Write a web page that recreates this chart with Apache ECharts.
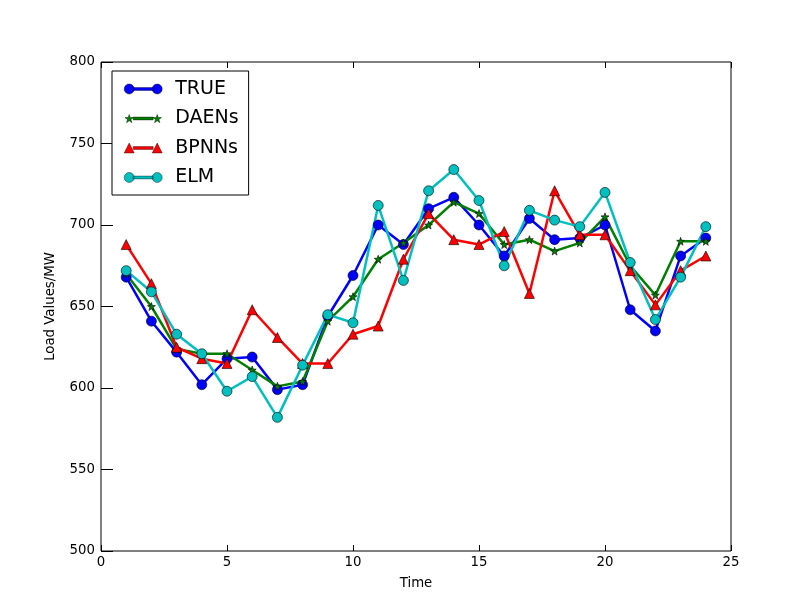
<!DOCTYPE html>
<html>
<head>
<meta charset="utf-8">
<script src="https://cdn.jsdelivr.net/npm/echarts@6/dist/echarts.min.js"></script>
<style>
  html, body { margin: 0; padding: 0; background: #fff; }
  #chart { width: 812px; height: 612px; }
</style>
</head>
<body>
<div id="chart"></div>
<script>
const hours = [1, 2, 3, 4, 5, 6, 7, 8, 9, 10, 11, 12, 13, 14, 15, 16, 17, 18, 19, 20, 21, 22, 23, 24];
const trueLoad = [668, 641, 622, 602, 618, 619, 599, 602, 644, 669, 700, 688, 710, 717, 700, 681, 704, 691, 692, 700, 648, 635, 681, 692];
const daens = [670, 650, 624, 621, 621, 611, 601, 604, 641, 656, 679, 689, 700, 714, 707, 688, 691, 684, 689, 705, 675, 657, 690, 690];
const bpnns = [688, 664, 625, 618, 615, 648, 631, 615, 615, 633, 638, 679, 707, 691, 688, 696, 658, 721, 694, 694, 672, 651, 672, 681];
const elm = [672, 659, 633, 621, 598, 607, 582, 614, 645, 640, 712, 666, 721, 734, 715, 675, 709, 703, 699, 720, 677, 642, 668, 699];

const font = 'DejaVu Sans';
const chart = echarts.init(document.getElementById('chart'), null, { renderer: 'canvas' });

const STAR = 'path://M0,-10 L2.35,-3.24 L9.51,-3.09 L3.8,1.24 L5.88,8.09 L0,4 L-5.88,8.09 L-3.8,1.24 L-9.51,-3.09 L-2.35,-3.24 Z';

// legend keys in the matplotlib way: a short line with a marker at each end (38 x 10 box)
const barPart = 'M9,3.6 L29,3.6 L29,6.4 L9,6.4 Z';
const iconCircle = 'path://M0,5 A5,5 0 1,1 10,5 A5,5 0 1,1 0,5 Z ' + barPart + ' M28,5 A5,5 0 1,1 38,5 A5,5 0 1,1 28,5 Z';
const iconTriangle = 'path://M0,10 L5,0 L10,10 Z ' + barPart + ' M28,10 L33,0 L38,10 Z';
const iconStar = 'path://M5,1 L6.1,4 L9.3,4 L6.7,6 L7.7,9.2 L5,7.3 L2.3,9.2 L3.3,6 L0.7,4 L3.9,4 Z ' + barPart +
  ' M33,1 L34.1,4 L37.3,4 L34.7,6 L35.7,9.2 L33,7.3 L30.3,9.2 L31.3,6 L28.7,4 L31.9,4 Z M0,0 L0.01,0 Z M38,10 L37.99,10 Z';

function pairs(vals) {
  return hours.map((h, i) => [h, vals[i]]);
}

function lineSeries(name, vals, color, symbol, size) {
  return {
    name: name,
    type: 'line',
    data: pairs(vals),
    symbol: symbol,
    symbolSize: size,
    showAllSymbol: true,
    lineStyle: { color: color, width: 2.5 },
    itemStyle: { color: color, borderColor: '#000', borderWidth: 0.6 },
    emphasis: { disabled: true },
    animation: false,
  };
}

// ticks: axes pulled 6px inside the frame, so outward ticks end on the frame
const tick = { show: true, length: 6, lineStyle: { color: '#000', width: 1 } };
const noLine = { show: false };

chart.setOption({
  backgroundColor: '#fff',
  grid: {
    left: 101, right: 81, top: 62, bottom: 61,
    show: true, borderColor: '#000', borderWidth: 1, backgroundColor: 'transparent',
  },
  legend: {
    data: [
      { name: 'TRUE', icon: iconCircle },
      { name: 'DAENs', icon: iconStar },
      { name: 'BPNNs', icon: iconTriangle },
      { name: 'ELM', icon: iconCircle },
    ],
    orient: 'vertical',
    left: 112, top: 71,
    padding: [8.5, 10, 8, 12],
    itemGap: 10.5,
    itemWidth: 38,
    itemHeight: 10,
    itemStyle: { borderWidth: 0.4, borderColor: '#000' },
    borderColor: '#000',
    borderWidth: 1,
    backgroundColor: '#fff',
    textStyle: { fontFamily: font, fontSize: 19, color: '#000', padding: [0, 0, 0, 8] },
  },
  xAxis: [{
    type: 'value',
    min: 0, max: 25, interval: 5,
    offset: -6,
    name: 'Time',
    nameLocation: 'middle',
    nameGap: 32,
    nameTextStyle: { fontFamily: font, fontSize: 13.3, color: '#000' },
    axisLine: noLine,
    axisTick: tick,
    axisLabel: { fontFamily: font, fontSize: 13.3, color: '#000', margin: 11 },
    splitLine: { show: false },
  }, {
    type: 'value', position: 'top', min: 0, max: 25, interval: 5, offset: -6,
    axisLine: noLine, axisTick: tick, axisLabel: { show: false }, splitLine: { show: false },
  }],
  yAxis: [{
    type: 'value',
    min: 500, max: 800, interval: 50,
    offset: -6,
    name: 'Load Values/MW',
    nameLocation: 'middle',
    nameGap: 50,
    nameTextStyle: { fontFamily: font, fontSize: 13.3, color: '#000' },
    axisLine: noLine,
    axisTick: tick,
    axisLabel: { fontFamily: font, fontSize: 13.3, color: '#000', margin: 12 },
    splitLine: { show: false },
  }, {
    type: 'value', position: 'right', min: 500, max: 800, interval: 50, offset: -6,
    axisLine: noLine, axisTick: tick, axisLabel: { show: false }, splitLine: { show: false },
  }],
  series: [
    lineSeries('TRUE', trueLoad, '#0000ff', 'circle', 10),
    lineSeries('DAENs', daens, '#008000', STAR, 8),
    lineSeries('BPNNs', bpnns, '#ff0000', 'triangle', 10),
    lineSeries('ELM', elm, '#00bfbf', 'circle', 10),
  ],
  animation: false,
});
</script>
</body>
</html>
